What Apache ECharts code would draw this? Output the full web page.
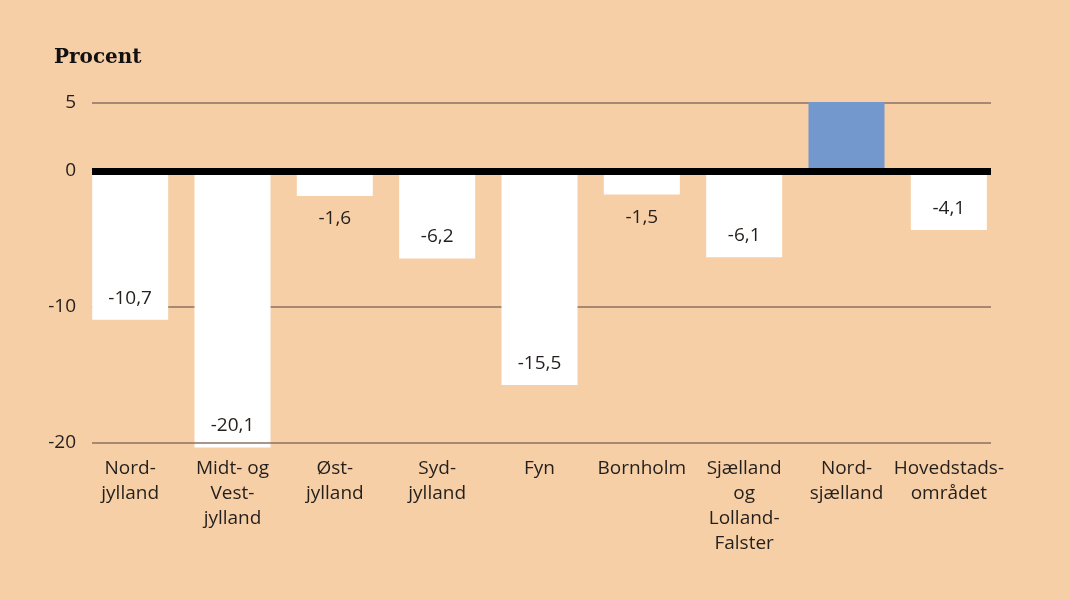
<!DOCTYPE html>
<html>
<head>
    <meta charset="UTF-8">
    <title>Procent</title>
    <script src="https://cdn.jsdelivr.net/npm/echarts/dist/echarts.min.js"></script>
    <style>
    html, body { margin: 0; padding: 0; background: #F7CFA6; }
    #chart { width: 1070px; height: 600px; }
  </style>
</head>
<body>
<div id="chart"></div>
<script>
    // regioner og ændring i procent
    var regioner = ['Nord-\njylland', 'Midt- og\nVest-\njylland', 'Øst-\njylland', 'Syd-\njylland', 'Fyn',
                    'Bornholm', 'Sjælland\nog\nLolland-\nFalster', 'Nord-\nsjælland', 'Hovedstads-\nområdet'];
    var vaerdier = [-10.7, -20.1, -1.6, -6.2, -15.5, -1.5, -6.1, 5.3, -4.1];
    var visEtiket = [true, true, true, true, true, true, true, false, true];
    var yTicks = [5, 0, -10, -20];

    var font = '"Open Sans", sans-serif';
    var linjeFarve = '#8C7262';

    var chart = echarts.init(document.getElementById('chart'));

    // ticks hver 5, men kun dem i yTicks vises (-20 tegnes som akselinje ovenpå)
    var tickVals = [];
    for (var v = -20; v <= 5; v += 5) tickVals.push(v);
    var splitColors = tickVals.map(function (t) {
      return (yTicks.indexOf(t) >= 0 && t !== 0 && t !== -20) ? linjeFarve : 'rgba(0,0,0,0)';
    });

    var data = vaerdier.map(function (v, i) {
      var kort = Math.abs(v) < 3;
      return {
        value: v,
        itemStyle: { color: v > 0 ? '#7398CE' : '#FFFFFF' },
        label: {
          show: visEtiket[i],
          position: kort ? 'bottom' : 'insideBottom',
          distance: kort ? 13 : 12
        }
      };
    });

    var option = {
      backgroundColor: '#F7CFA6',
      animation: false,
      title: {
        text: 'Procent',
        left: 49, top: 43,
        textStyle: { fontFamily: '"DejaVu Serif", serif', fontWeight: 'bold', fontSize: 20, color: '#111' }
      },
      grid: [
        { left: 79, right: 70, top: 106.2, bottom: 153.8 },
        { left: 92, right: 79, top: 103, bottom: 157 }
      ],
      xAxis: [
        {
          type: 'category', gridIndex: 0, data: regioner,
          axisLine: { show: false }, axisTick: { show: false },
          axisLabel: { fontFamily: font, fontSize: 19, color: '#231F1C', margin: 10, lineHeight: 25, interval: 0 }
        },
        {
          type: 'value', gridIndex: 1, min: 0, max: 1, z: 5, position: 'top',
          axisLine: { show: true, onZero: true, lineStyle: { color: '#000', width: 7, cap: 'butt' } },
          axisTick: { show: false }, axisLabel: { show: false }, splitLine: { show: false }
        },
        {
          type: 'value', gridIndex: 1, min: 0, max: 1, z: 5, position: 'bottom',
          axisLine: { show: true, onZero: false, lineStyle: { color: linjeFarve, width: 1.5, cap: 'butt' } },
          axisTick: { show: false }, axisLabel: { show: false }, splitLine: { show: false }
        }
      ],
      yAxis: [
        { type: 'value', gridIndex: 0, min: -20, max: 5, interval: 5, show: false },
        {
          type: 'value', gridIndex: 1, min: -20, max: 5, interval: 5, z: 0,
          axisLine: { show: false }, axisTick: { show: false },
          axisLabel: {
            fontFamily: font, fontSize: 19, color: '#231F1C', margin: 16,
            formatter: function (v) { return yTicks.indexOf(v) >= 0 ? String(v) : ''; }
          },
          splitLine: { show: true, lineStyle: { color: splitColors, width: 1.5 } }
        }
      ],
      series: [
        {
          type: 'bar', xAxisIndex: 0, yAxisIndex: 0, barWidth: 76, z: 2, clip: false,
          data: data,
          label: {
            fontFamily: font, fontSize: 19, color: '#231F1C',
            formatter: function (p) { return String(p.value).replace('.', ','); }
          }
        },
        { type: 'line', xAxisIndex: 1, yAxisIndex: 1, data: [], silent: true }
      ]
    };
    chart.setOption(option);
  </script>
</body>
</html>
